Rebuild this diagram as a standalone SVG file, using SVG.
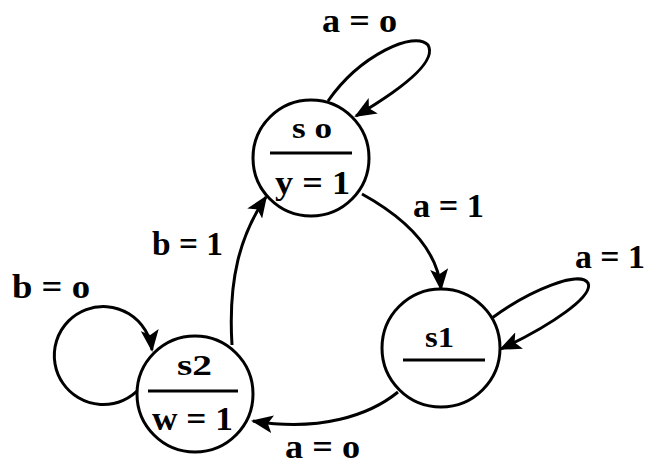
<svg xmlns="http://www.w3.org/2000/svg" width="646" height="465" viewBox="0 0 646 465">
<style>
.st{fill:#fff;stroke:#000;stroke-width:3}
.ln{stroke:#000;stroke-width:3}
.e{fill:none;stroke:#000;stroke-width:3;marker-end:url(#ah)}
text{font-family:"Liberation Serif","Times New Roman",serif;font-weight:bold;fill:#000}
.nm{font-size:30px}
.n{font-size:34px}
.l{font-size:33px}
</style>
<defs>
<marker id="ah" markerUnits="userSpaceOnUse" markerWidth="22" markerHeight="18" refX="20" refY="9" orient="auto">
<path d="M0,0 L22,9 L0,18 L5,9 Z" fill="#000"/>
</marker>
</defs>
<rect width="646" height="465" fill="#fff"/>
<g id="connectors">
<path class="e" d="M328,101 C360,55 415,30 428,45 C438,62 400,90 356,116"/>
<path class="e" d="M362,194 C400,215 437,245 441,289"/>
<path class="e" d="M492,318 C530,290 580,270 588,283 C594,296 552,325 501,349"/>
<path class="e" d="M398,392 C370,415 320,432 253,421"/>
<path class="e" d="M232,345 C228,280 240,235 266,197"/>
<path class="e" d="M140,388 A49,49 0 1 1 152,350"/>
</g>
<g id="s0">
<circle class="st" cx="311" cy="158" r="58"/>
<text class="nm" x="292" y="138" textLength="40" lengthAdjust="spacingAndGlyphs">s o</text>
<line class="ln" x1="270" y1="153" x2="352" y2="153"/>
<text class="n" x="275" y="194" textLength="75" lengthAdjust="spacingAndGlyphs">y = 1</text>
</g>
<g id="s1">
<circle class="st" cx="441" cy="348" r="59"/>
<text class="nm" x="425" y="347" textLength="29" lengthAdjust="spacingAndGlyphs">s1</text>
<line class="ln" x1="403" y1="360" x2="485" y2="360"/>
</g>
<g id="s2">
<circle class="st" cx="195" cy="394" r="58"/>
<text class="nm" x="177" y="375" textLength="35" lengthAdjust="spacingAndGlyphs">s2</text>
<line class="ln" x1="148" y1="391" x2="238" y2="391"/>
<text class="n" x="152" y="430" textLength="81" lengthAdjust="spacingAndGlyphs">w = 1</text>
</g>
<g id="labels">
<text class="l" x="322" y="32" textLength="75" lengthAdjust="spacingAndGlyphs">a = o</text>
<text class="l" x="413" y="217" textLength="71" lengthAdjust="spacingAndGlyphs">a = 1</text>
<text class="l" x="575" y="268" textLength="70" lengthAdjust="spacingAndGlyphs">a = 1</text>
<text class="l" x="152" y="255" textLength="71" lengthAdjust="spacingAndGlyphs">b = 1</text>
<text class="l" x="12" y="298" textLength="78" lengthAdjust="spacingAndGlyphs">b = o</text>
<text class="l" x="285" y="458" textLength="75" lengthAdjust="spacingAndGlyphs">a = o</text>
</g>
</svg>
